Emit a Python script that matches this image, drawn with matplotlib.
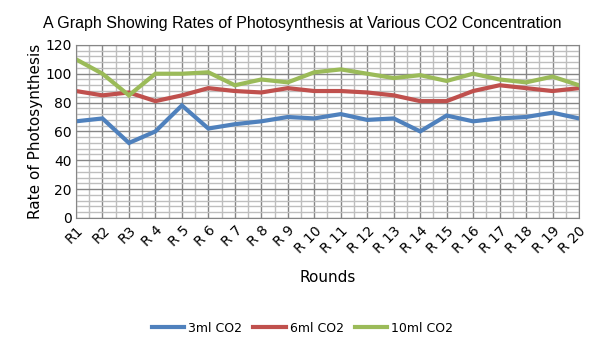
import matplotlib.pyplot as plt
from matplotlib.ticker import MultipleLocator

rounds = ["R1", "R2", "R3", "R 4", "R 5", "R 6", "R 7", "R 8", "R 9", "R 10",
          "R 11", "R 12", "R 13", "R 14", "R 15", "R 16", "R 17", "R 18", "R 19", "R 20"]
co2_3ml = [67, 69, 52, 60, 78, 62, 65, 67, 70, 69, 72, 68, 69, 60, 71, 67, 69, 70, 73, 69]
co2_6ml = [88, 85, 87, 81, 85, 90, 88, 87, 90, 88, 88, 87, 85, 81, 81, 88, 92, 90, 88, 90]
co2_10ml = [110, 100, 85, 100, 100, 101, 92, 96, 94, 101, 103, 100, 97, 99, 95, 100, 96, 94, 98, 92]

fig = plt.figure(figsize=(6.05, 3.4), dpi=100)
ax = fig.add_axes([0.1256, 0.359, 0.8314, 0.509])

x = list(range(len(rounds)))
ax.plot(x, co2_3ml, color="#4F81BD", lw=3, label="3ml CO2", solid_joinstyle="miter")
ax.plot(x, co2_6ml, color="#C0504D", lw=3, label="6ml CO2", solid_joinstyle="miter")
ax.plot(x, co2_10ml, color="#9BBB59", lw=3, label="10ml CO2", solid_joinstyle="miter")

ax.set_xlim(0, len(rounds) - 1)
ax.set_ylim(0, 120)
ax.set_xticks(x)
ax.set_xticklabels(rounds, rotation=45, ha="right", va="top", rotation_mode="anchor", fontsize=10)
ax.xaxis.set_minor_locator(MultipleLocator(0.5))
ax.yaxis.set_major_locator(MultipleLocator(20))
ax.yaxis.set_minor_locator(MultipleLocator(4))
ax.tick_params(axis="both", which="both", length=0)
ax.tick_params(axis="y", labelsize=10, pad=3)
ax.tick_params(axis="x", pad=4)

ax.grid(True, which="major", color="#868686", lw=1)
ax.grid(True, which="minor", color="#BEBEBE", lw=1)
ax.set_axisbelow(True)
for s in ax.spines.values():
    s.set_color("#868686")

ax.set_ylabel("Rate of Photosynthesis", fontsize=11, labelpad=2)
ax.set_xlabel("Rounds", fontsize=11, labelpad=10)
fig.text(0.5, 0.93, "A Graph Showing Rates of Photosynthesis at Various CO2 Concentration",
         ha="center", va="center", family="Liberation Sans", fontsize=11.5)

fig.legend(loc="center", bbox_to_anchor=(0.5, 0.035), ncol=3, frameon=False,
           fontsize=9, handlelength=2.6, columnspacing=0.9, handletextpad=0.3)

plt.savefig("out.png", dpi=100)
